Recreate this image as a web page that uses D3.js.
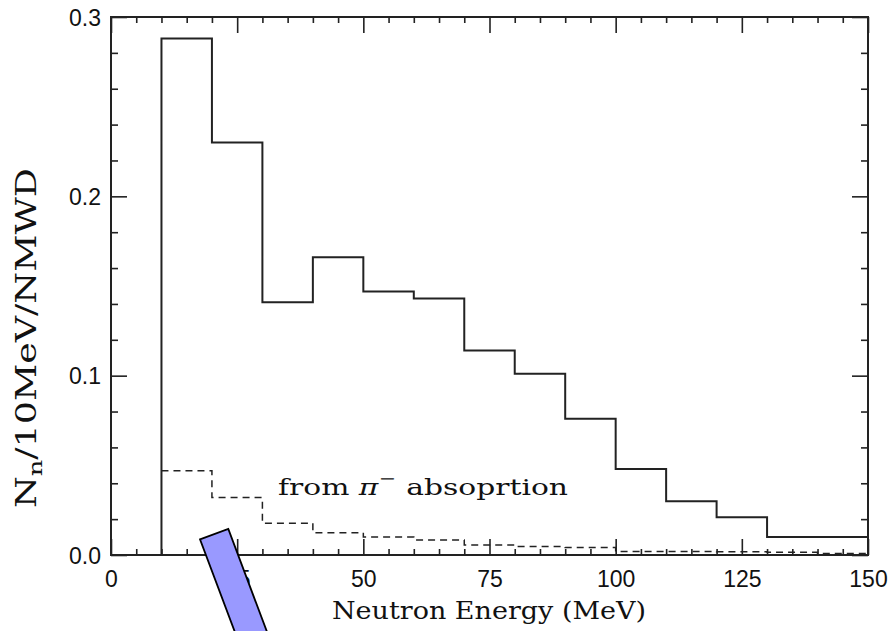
<!DOCTYPE html>
<html>
<head>
<meta charset="utf-8">
<script src="https://cdn.jsdelivr.net/npm/d3@7"></script>
<style>
  html, body { margin: 0; padding: 0; background: #fff; }
  svg { display: block; }
</style>
</head>
<body>
<svg id="chart" width="893" height="631"></svg>
<script>
// ---- data ----
const binEdges = [10, 20, 30, 40, 50, 60, 70, 80, 90, 100, 110, 120, 130, 140, 150];
const totalNeutrons = [0.288, 0.230, 0.141, 0.166, 0.147, 0.143, 0.114, 0.101, 0.076, 0.048, 0.030, 0.021, 0.010, 0.010];
const piAbsorption = [0.047, 0.032, 0.0177, 0.0124, 0.010, 0.0083, 0.0056, 0.0047, 0.0042, 0.0019, 0.0019, 0.0018, 0.0016, 0.0009];
const xTicks = [0, 25, 50, 75, 100, 125, 150];
const yTicks = [0.0, 0.1, 0.2, 0.3];
const yTickLabels = ["0.0", "0.1", "0.2", "0.3"];

// ---- layout ----
const L = 111, R = 868, T = 17, B = 555;
const ink = "#222";
const svg = d3.select("#chart");
const x = d3.scaleLinear().domain([0, 150]).range([L, R]);
const y = d3.scaleLinear().domain([0, 0.3]).range([B, T]);

const xMinor = d3.range(0, 151, 5).filter(v => v % 25 !== 0);
const yMinor = d3.range(0, 0.3001, 0.02).filter(v => Math.abs(v * 10 - Math.round(v * 10)) > 1e-6);

function styleAxis(g) {
  g.select(".domain").remove();
  g.selectAll(".tick line").attr("stroke", ink).attr("stroke-width", 1.6);
}

// major + minor ticks, pointing inward, on all four sides
svg.append("g").attr("transform", `translate(0,${B})`)
  .call(d3.axisBottom(x).tickValues(xMinor).tickSize(-6).tickFormat(""))
  .call(styleAxis);
svg.append("g").attr("transform", `translate(0,${B})`)
  .call(d3.axisBottom(x).tickValues(xTicks).tickSize(-16).tickPadding(0).tickFormat(d => d))
  .call(styleAxis)
  .call(g => g.selectAll("text").attr("font-family", "Liberation Sans, Arial, sans-serif")
    .attr("font-size", 23).attr("fill", "#111").attr("y", 32).attr("dy", 0));
svg.append("g").attr("transform", `translate(0,${T})`)
  .call(d3.axisTop(x).tickValues(xMinor).tickSize(-6).tickFormat(""))
  .call(styleAxis);
svg.append("g").attr("transform", `translate(0,${T})`)
  .call(d3.axisTop(x).tickValues(xTicks).tickSize(-16).tickFormat(""))
  .call(styleAxis);
svg.append("g").attr("transform", `translate(${L},0)`)
  .call(d3.axisLeft(y).tickValues(yMinor).tickSize(-7).tickFormat(""))
  .call(styleAxis);
svg.append("g").attr("transform", `translate(${L},0)`)
  .call(d3.axisLeft(y).tickValues(yTicks).tickSize(-16).tickFormat((d, i) => yTickLabels[i]))
  .call(styleAxis)
  .call(g => g.selectAll("text").attr("font-family", "Liberation Sans, Arial, sans-serif")
    .attr("font-size", 23).attr("fill", "#111").attr("x", -10).attr("dy", "0.36em"));
svg.append("g").attr("transform", `translate(${R},0)`)
  .call(d3.axisRight(y).tickValues(yMinor).tickSize(-7).tickFormat(""))
  .call(styleAxis);
svg.append("g").attr("transform", `translate(${R},0)`)
  .call(d3.axisRight(y).tickValues(yTicks).tickSize(-16).tickFormat(""))
  .call(styleAxis);

// frame
svg.append("rect").attr("x", L).attr("y", T).attr("width", R - L).attr("height", B - T)
  .attr("fill", "none").attr("stroke", ink).attr("stroke-width", 2);

// histograms
function stepPoints(vals, fromZero) {
  const pts = fromZero ? [[binEdges[0], 0]] : [];
  vals.forEach((v, i) => { pts.push([binEdges[i], v]); pts.push([binEdges[i + 1], v]); });
  return pts;
}
const line = d3.line().x(d => x(d[0])).y(d => y(d[1]));

svg.append("path").attr("d", line(stepPoints(piAbsorption, false)))
  .attr("fill", "none").attr("stroke", ink).attr("stroke-width", 1.5)
  .attr("stroke-dasharray", "7,5");
svg.append("path").attr("d", line(stepPoints(totalNeutrons, true)))
  .attr("fill", "none").attr("stroke", ink).attr("stroke-width", 2);

// annotation text
const serif = "DejaVu Serif, serif";
const ann = svg.append("text").attr("x", 278).attr("y", 495)
  .attr("font-family", serif).attr("font-size", 23).attr("fill", "#111")
  .attr("textLength", 290).attr("lengthAdjust", "spacingAndGlyphs");
ann.append("tspan").text("from ");
ann.append("tspan").attr("font-style", "italic").text("π");
ann.append("tspan").attr("font-size", 16).attr("dy", -11).text("−");
ann.append("tspan").attr("dy", 11).attr("dx", 8).text("absoprtion");

// axis titles
svg.append("text").attr("x", 332).attr("y", 619)
  .attr("font-family", serif).attr("font-size", 24).attr("fill", "#111")
  .attr("textLength", 314).attr("lengthAdjust", "spacingAndGlyphs")
  .text("Neutron Energy (MeV)");

const yl = svg.append("text").attr("transform", "translate(36,508) rotate(-90)")
  .attr("font-family", serif).attr("font-size", 27).attr("fill", "#111")
  .attr("textLength", 340).attr("lengthAdjust", "spacingAndGlyphs");
yl.append("tspan").text("N");
yl.append("tspan").attr("font-size", 19).attr("dy", 6).text("n");
yl.append("tspan").attr("dy", -6).text("/10MeV/NMWD");

// blue annotation bar (overlay)
svg.append("polygon")
  .attr("points", [[200, 539.3], [228.3, 529], [277.6, 660], [245.4, 660]].map(p => p.join(",")).join(" "))
  .attr("fill", "#9999ff").attr("stroke", "#000").attr("stroke-width", 1.8);
</script>
</body>
</html>
